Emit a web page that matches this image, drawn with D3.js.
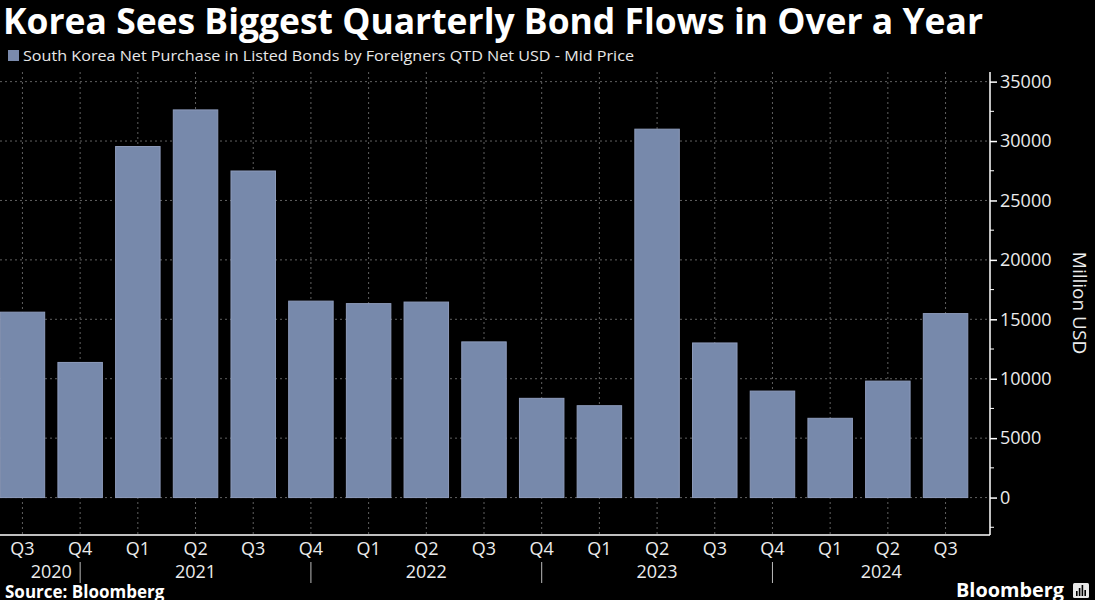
<!DOCTYPE html>
<html>
<head>
<meta charset="utf-8">
<script src="https://cdn.jsdelivr.net/npm/d3@7"></script>
<style>
  html, body { margin: 0; padding: 0; background: #000; }
  svg { display: block; }
  text { font-family: "Open Sans", "Liberation Sans", sans-serif; }
</style>
</head>
<body>
<svg id="chart" width="1095" height="600"></svg>
<script>
// ---- Data ----
const title = "Korea Sees Biggest Quarterly Bond Flows in Over a Year";
const seriesName = "South Korea Net Purchase in Listed Bonds by Foreigners QTD Net USD - Mid Price";
const quarters = ["Q3","Q4","Q1","Q2","Q3","Q4","Q1","Q2","Q3","Q4","Q1","Q2","Q3","Q4","Q1","Q2","Q3"];
const years    = [2020,2020,2021,2021,2021,2021,2022,2022,2022,2022,2023,2023,2023,2023,2024,2024,2024];
const values   = [15600,11370,29540,32620,27480,16530,16320,16450,13100,8350,7730,31000,13010,8960,6670,9800,15480];
const yTicks   = [0,5000,10000,15000,20000,25000,30000,35000];
const yMinorTicks = [-2500,2500,7500,12500,17500,22500,27500,32500];
const yearLabels = ["2020","2021","2022","2023","2024"];
const axisTitle = "Million USD";
const source = "Source: Bloomberg";

// ---- Layout ----
const svg = d3.select("#chart");
const plotLeft = 0, plotRight = 990, plotTop = 72, plotBottom = 535;
const keys = quarters.map((q, i) => years[i] + " " + q);

const x = d3.scaleBand().domain(keys).range([-13, 981]).paddingInner(0.229).paddingOuter(0.229);
const y = d3.scaleLinear().domain([-3150, 35810]).range([plotBottom, plotTop]);

svg.append("rect").attr("width", 1095).attr("height", 600).attr("fill", "#000");

// Title
svg.append("text").text(title)
  .attr("x", 3).attr("y", 34)
  .attr("font-size", 35).attr("font-weight", 700).attr("fill", "#ffffff")
  .attr("textLength", 980).attr("lengthAdjust", "spacingAndGlyphs");

// Legend
svg.append("rect").attr("x", 8).attr("y", 50).attr("width", 11).attr("height", 11).attr("fill", "#7a8aac");
svg.append("text").text(seriesName)
  .attr("x", 23).attr("y", 61)
  .attr("font-size", 15).attr("fill", "#e8e8e8")
  .attr("textLength", 611).attr("lengthAdjust", "spacingAndGlyphs");

// Grid
const grid = svg.append("g");
grid.selectAll("line.h").data(yTicks).join("line")
  .attr("x1", plotLeft).attr("x2", plotRight)
  .attr("y1", d => y(d)).attr("y2", d => y(d))
  .attr("stroke", "#606060").attr("stroke-width", 1).attr("stroke-dasharray", "2,3");
grid.selectAll("line.v").data(keys).join("line")
  .attr("x1", d => x(d) + x.bandwidth()/2).attr("x2", d => x(d) + x.bandwidth()/2)
  .attr("y1", plotTop).attr("y2", plotBottom)
  .attr("stroke", "#606060").attr("stroke-width", 1).attr("stroke-dasharray", "2,3");

// Bars
svg.append("g").selectAll("rect").data(values).join("rect")
  .attr("x", (d, i) => x(keys[i]))
  .attr("width", x.bandwidth())
  .attr("y", d => y(Math.max(0, d)))
  .attr("height", d => Math.abs(y(d) - y(0)))
  .attr("fill", "#7789ab")
  .attr("stroke", "#8e9cbc").attr("stroke-width", 1);

// Y axis (right)
const yAxis = d3.axisRight(y).tickValues(yTicks).tickSize(7).tickPadding(3).tickFormat(d3.format("d"));
const gy = svg.append("g").attr("transform", `translate(${plotRight},0)`).call(yAxis);
gy.select(".domain").remove();
gy.selectAll(".tick line").attr("stroke", "#ffffff").attr("stroke-width", 1.5);
gy.selectAll(".tick text").attr("fill", "#ececec").attr("font-size", 18)
  .attr("font-family", "'Open Sans', sans-serif");
svg.append("g").selectAll("line").data(yMinorTicks).join("line")
  .attr("x1", plotRight).attr("x2", plotRight + 4)
  .attr("y1", d => y(d)).attr("y2", d => y(d))
  .attr("stroke", "#ffffff").attr("stroke-width", 1);
svg.append("line").attr("x1", plotRight).attr("x2", plotRight)
  .attr("y1", plotTop).attr("y2", plotBottom).attr("stroke", "#ffffff").attr("stroke-width", 1.5);

// X axis line
svg.append("line").attr("x1", plotLeft).attr("x2", plotRight)
  .attr("y1", plotBottom).attr("y2", plotBottom).attr("stroke", "#ffffff").attr("stroke-width", 1.5);

// Quarter labels
svg.append("g").selectAll("text").data(keys).join("text")
  .attr("x", d => x(d) + x.bandwidth()/2).attr("y", 555)
  .attr("text-anchor", "middle").attr("font-size", 18).attr("fill", "#ececec")
  .text((d, i) => quarters[i]);

// Year separators (at last quarter of each year, except final)
const sepX = [];
keys.forEach((k, i) => {
  if (i < keys.length - 1 && years[i + 1] !== years[i]) sepX.push(x(k) + x.bandwidth()/2);
});
svg.append("g").selectAll("line").data(sepX).join("line")
  .attr("x1", d => d).attr("x2", d => d).attr("y1", 562).attr("y2", 583)
  .attr("stroke", "#bbbbbb").attr("stroke-width", 1);

// Year labels centered in their spans
const firstCenter = x(keys[0]) + x.bandwidth()/2;
const bounds = [firstCenter, ...sepX, plotRight];
svg.append("g").selectAll("text").data(yearLabels).join("text")
  .attr("x", (d, i) => (bounds[i] + bounds[i + 1]) / 2).attr("y", 578)
  .attr("text-anchor", "middle").attr("font-size", 18).attr("fill", "#ececec")
  .text(d => d);

// Axis title
svg.append("text").text(axisTitle)
  .attr("transform", "translate(1073,303) rotate(90)")
  .attr("text-anchor", "middle").attr("font-size", 19).attr("fill", "#ececec");

// Source
svg.append("text").text(source)
  .attr("x", 5).attr("y", 598).attr("font-size", 17).attr("font-weight", 700).attr("fill", "#ffffff");

// Bloomberg logo
svg.append("text").text("Bloomberg")
  .attr("x", 956).attr("y", 597).attr("font-size", 20).attr("font-weight", 700).attr("fill", "#ffffff")
  .attr("textLength", 108).attr("lengthAdjust", "spacingAndGlyphs");
const logo = svg.append("g").attr("transform", "translate(1073,583)");
logo.append("rect").attr("width", 16).attr("height", 15).attr("rx", 1.5).attr("fill", "#e8e8e8");
logo.selectAll("rect.b").data([5, 8, 11, 6]).join("rect")
  .attr("x", (d, i) => 3 + i * 2.8).attr("y", d => 13 - d).attr("width", 1.6).attr("height", d => d).attr("fill", "#000");
</script>
</body>
</html>
